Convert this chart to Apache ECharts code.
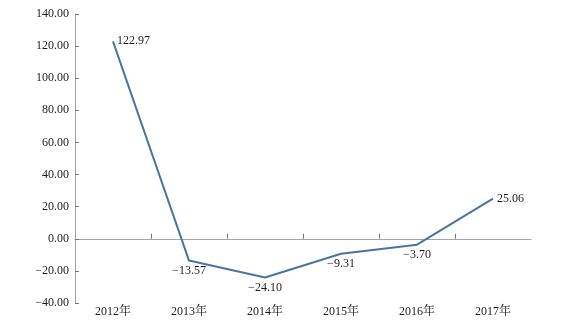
<!DOCTYPE html>
<html>
<head>
<meta charset="utf-8">
<script src="https://cdn.jsdelivr.net/npm/echarts@6/dist/echarts.min.js"></script>
<style>
  html, body { margin: 0; padding: 0; background: #fff; }
  #chart { width: 579px; height: 323px; }
</style>
</head>
<body>
<div id="chart"></div>
<script>
// Year-on-year growth rate, 2012–2017
const years = ['2012年', '2013年', '2014年', '2015年', '2016年', '2017年'];
const growth = [122.97, -13.57, -24.10, -9.31, -3.70, 25.06];
const labelSides = ['right', 'bottom', 'bottom', 'bottom', 'bottom', 'right'];

const FONT = '"Liberation Serif", "Times New Roman", "Noto Serif CJK SC", "Noto Sans CJK SC", serif';
const TEXT = '#1e1e1e';
const AXIS = '#a6a6a6';
const fmt = v => v.toFixed(2).replace('-', '\u2212');

// inner boundaries between year bands, used for the baseline ticks
const boundaries = years.slice(1).map((_, i) => i + 1);

const chart = echarts.init(document.getElementById('chart'), null, { renderer: 'canvas' });

chart.setOption({
  animation: false,
  backgroundColor: '#fff',
  grid: { left: 75, right: 48, top: 14, bottom: 20, containLabel: false },
  xAxis: [
    {
      // category labels along the bottom edge
      type: 'category',
      data: years,
      position: 'bottom',
      boundaryGap: true,
      axisLine: { show: false, onZero: false },
      axisTick: { show: false },
      axisLabel: { color: TEXT, fontFamily: FONT, fontSize: 12, margin: 3 }
    },
    {
      // baseline through zero, ticks only between the year bands
      type: 'value',
      min: 0,
      max: years.length,
      interval: 1,
      position: 'bottom',
      axisLine: { show: true, onZero: true, lineStyle: { color: AXIS, width: 1 } },
      axisTick: { show: true, inside: true, length: 5, customValues: boundaries, lineStyle: { color: '#777' } },
      axisLabel: { show: false },
      splitLine: { show: false }
    }
  ],
  yAxis: {
    type: 'value',
    min: -40,
    max: 140,
    interval: 20,
    axisLine: { show: true, lineStyle: { color: AXIS, width: 1 } },
    axisTick: { show: true, inside: true, length: 4, lineStyle: { color: '#777' } },
    splitLine: { show: false },
    axisLabel: {
      color: TEXT, fontFamily: FONT, fontSize: 12, margin: 6,
      formatter: v => fmt(v)
    }
  },
  series: [{
    type: 'line',
    xAxisIndex: 0,
    data: growth.map((v, i) => ({
      value: v,
      label: { position: labelSides[i] }
    })),
    symbol: 'circle',
    symbolSize: 1,
    showSymbol: true,
    itemStyle: { color: 'rgba(0,0,0,0)' },
    lineStyle: { color: '#4a75a3', width: 2 },
    label: {
      show: true,
      color: TEXT,
      fontFamily: FONT,
      fontSize: 12,
      distance: 3.5,
      formatter: p => fmt(p.value)
    }
  }]
});
</script>
</body>
</html>
